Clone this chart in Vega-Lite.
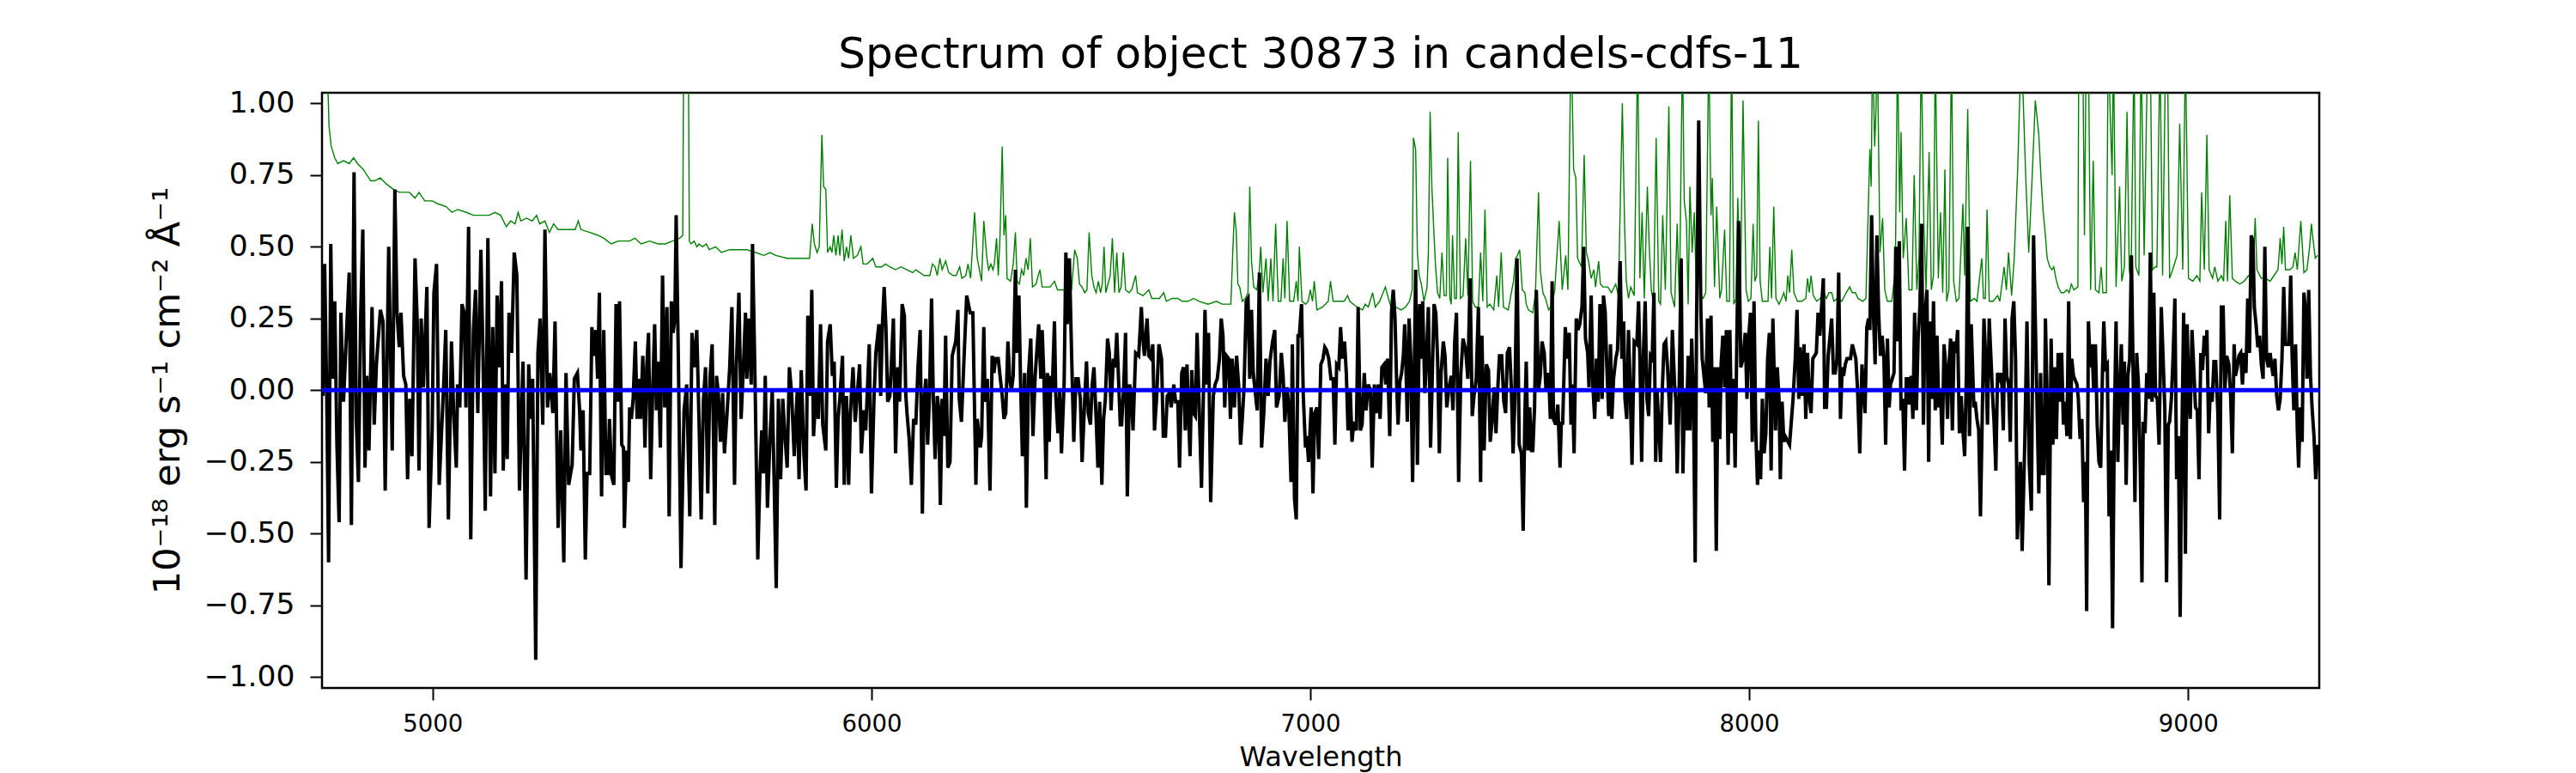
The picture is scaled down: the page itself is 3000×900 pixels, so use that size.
{
  "$schema": "https://vega.github.io/schema/vega-lite/v6.json",
  "autosize": {"type": "none"},
  "padding": {"left": 375, "top": 108, "right": 299, "bottom": 99},
  "width": 2326,
  "height": 693,
  "background": "white",
  "title": {
    "text": "Spectrum of object 30873 in candels-cdfs-11",
    "fontSize": 50,
    "fontWeight": "normal",
    "color": "black",
    "anchor": "middle",
    "offset": 13
  },
  "config": {
    "font": "DejaVu Sans",
    "view": {"stroke": "black", "strokeWidth": 2.5},
    "axis": {
      "domain": false,
      "grid": false,
      "tickColor": "black",
      "tickWidth": 2,
      "tickSize": 14,
      "labelColor": "black",
      "titleColor": "black",
      "titleFontWeight": "normal",
      "labelFont": "DejaVu Sans",
      "titleFont": "DejaVu Sans"
    }
  },
  "datasets": {
    "model": [
      {"w": 4748, "f": 0}, {"w": 5500, "f": 0}, {"w": 6000, "f": 0}, {"w": 6500, "f": 0},
      {"w": 7000, "f": 0}, {"w": 7500, "f": 0}, {"w": 8000, "f": 0}, {"w": 8500, "f": 0},
      {"w": 9000, "f": 0}, {"w": 9299, "f": 0}
    ],
    "noise": [
      {"w":4757,"f":1.30},{"w":4764,"f":0.92},{"w":4769,"f":0.85},{"w":4777,"f":0.81},{"w":4784,"f":0.79},{"w":4797,"f":0.80},{"w":4810,"f":0.79},{"w":4820,"f":0.81},{"w":4829,"f":0.79},{"w":4842,"f":0.77},{"w":4859,"f":0.73},{"w":4868,"f":0.73},{"w":4881,"f":0.74},{"w":4894,"f":0.72},{"w":4911,"f":0.70},{"w":4924,"f":0.69},{"w":4947,"f":0.69},{"w":4960,"f":0.67},{"w":4969,"f":0.69},{"w":4982,"f":0.66},{"w":4999,"f":0.66},{"w":5012,"f":0.65},{"w":5031,"f":0.64},{"w":5044,"f":0.62},{"w":5057,"f":0.63},{"w":5077,"f":0.62},{"w":5093,"f":0.61},{"w":5110,"f":0.61},{"w":5129,"f":0.61},{"w":5142,"f":0.62},{"w":5155,"f":0.61},{"w":5168,"f":0.57},{"w":5178,"f":0.59},{"w":5188,"f":0.58},{"w":5195,"f":0.62},{"w":5201,"f":0.59},{"w":5214,"f":0.60},{"w":5227,"f":0.59},{"w":5237,"f":0.61},{"w":5244,"f":0.58},{"w":5256,"f":0.59},{"w":5266,"f":0.55},{"w":5276,"f":0.58},{"w":5286,"f":0.56},{"w":5305,"f":0.56},
      {"w":5325,"f":0.56},{"w":5332,"f":0.59},{"w":5338,"f":0.56},{"w":5358,"f":0.55},{"w":5377,"f":0.54},{"w":5390,"f":0.53},{"w":5407,"f":0.51},{"w":5423,"f":0.52},{"w":5439,"f":0.52},{"w":5449,"f":0.52},{"w":5461,"f":0.53},{"w":5475,"f":0.51},{"w":5495,"f":0.52},{"w":5514,"f":0.51},{"w":5530,"f":0.51},{"w":5547,"f":0.52},{"w":5563,"f":0.53},{"w":5570,"f":0.54},{"w":5573,"f":1.45},{"w":5577,"f":1.6},{"w":5582,"f":1.45},{"w":5585,"f":0.52},{"w":5589,"f":0.51},{"w":5596,"f":0.52},{"w":5602,"f":0.50},{"w":5607,"f":0.51},{"w":5615,"f":0.50},{"w":5624,"f":0.51},{"w":5630,"f":0.49},{"w":5645,"f":0.50},{"w":5658,"f":0.48},{"w":5677,"f":0.49},{"w":5697,"f":0.49},{"w":5716,"f":0.49},{"w":5736,"f":0.48},{"w":5755,"f":0.47},{"w":5769,"f":0.48},{"w":5782,"f":0.47},{"w":5808,"f":0.46},{"w":5834,"f":0.46},{"w":5859,"f":0.46},{"w":5865,"f":0.58},{"w":5870,"f":0.51},{"w":5876,"f":0.48},{"w":5881,"f":0.50},{"w":5887,"f":0.89},{"w":5891,"f":0.71},{"w":5896,"f":0.70},{"w":5900,"f":0.48},{"w":5906,"f":0.50},{"w":5910,"f":0.48},{"w":5914,"f":0.54},{"w":5919,"f":0.47},{"w":5924,"f":0.54},{"w":5928,"f":0.47},{"w":5933,"f":0.56},{"w":5938,"f":0.45},{"w":5943,"f":0.50},{"w":5948,"f":0.46},{"w":5953,"f":0.54},{"w":5959,"f":0.46},{"w":5968,"f":0.47},{"w":5976,"f":0.50},{"w":5981,"f":0.44},
      {"w":5990,"f":0.44},{"w":5997,"f":0.45},{"w":6003,"f":0.46},{"w":6010,"f":0.43},{"w":6023,"f":0.43},{"w":6032,"f":0.44},{"w":6042,"f":0.43},{"w":6055,"f":0.42},{"w":6067,"f":0.43},{"w":6081,"f":0.42},{"w":6094,"f":0.41},{"w":6101,"f":0.42},{"w":6120,"f":0.40},{"w":6133,"f":0.40},{"w":6139,"f":0.44},{"w":6145,"f":0.43},{"w":6150,"f":0.40},{"w":6156,"f":0.46},{"w":6161,"f":0.42},{"w":6169,"f":0.45},{"w":6176,"f":0.41},{"w":6186,"f":0.40},{"w":6193,"f":0.40},{"w":6201,"f":0.43},{"w":6206,"f":0.39},{"w":6215,"f":0.40},{"w":6220,"f":0.44},{"w":6226,"f":0.39},{"w":6235,"f":0.62},{"w":6241,"f":0.46},{"w":6246,"f":0.42},{"w":6251,"f":0.38},{"w":6256,"f":0.59},{"w":6263,"f":0.46},{"w":6267,"f":0.42},{"w":6272,"f":0.44},{"w":6277,"f":0.42},{"w":6280,"f":0.44},{"w":6285,"f":0.53},{"w":6289,"f":0.40},{"w":6293,"f":0.54},{"w":6298,"f":0.85},{"w":6302,"f":0.54},{"w":6306,"f":0.61},{"w":6309,"f":0.39},{"w":6317,"f":0.38},{"w":6323,"f":0.44},{"w":6328,"f":0.55},{"w":6332,"f":0.38},{"w":6337,"f":0.37},{"w":6342,"f":0.42},{"w":6347,"f":0.40},{"w":6352,"f":0.46},{"w":6357,"f":0.42},{"w":6362,"f":0.53},{"w":6367,"f":0.36},{"w":6375,"f":0.37},{"w":6380,"f":0.40},{"w":6384,"f":0.42},{"w":6389,"f":0.36},{"w":6398,"f":0.36},{"w":6407,"f":0.36},{"w":6417,"f":0.38},{"w":6424,"f":0.35},{"w":6440,"f":0.35},{"w":6456,"f":0.35},{"w":6463,"f":0.49},{"w":6469,"f":0.46},{"w":6474,"f":0.37},{"w":6480,"f":0.36},{"w":6486,"f":0.34},{"w":6491,"f":0.35},{"w":6496,"f":0.55},{"w":6502,"f":0.40},{"w":6507,"f":0.36},{"w":6512,"f":0.34},{"w":6517,"f":0.38},{"w":6522,"f":0.34},{"w":6526,"f":0.37},{"w":6530,"f":0.50},{"w":6534,"f":0.34},{"w":6539,"f":0.37},{"w":6544,"f":0.40},{"w":6549,"f":0.53},{"w":6554,"f":0.34},{"w":6559,"f":0.48},{"w":6564,"f":0.34},{"w":6569,"f":0.36},{"w":6574,"f":0.48},{"w":6579,"f":0.35},{"w":6587,"f":0.34},{"w":6593,"f":0.35},{"w":6602,"f":0.40},{"w":6606,"f":0.34},{"w":6619,"f":0.33},{"w":6632,"f":0.35},{"w":6639,"f":0.32},
      {"w":6656,"f":0.32},{"w":6666,"f":0.34},{"w":6672,"f":0.31},{"w":6685,"f":0.32},{"w":6698,"f":0.32},{"w":6708,"f":0.31},{"w":6721,"f":0.31},{"w":6734,"f":0.32},{"w":6747,"f":0.31},{"w":6767,"f":0.30},{"w":6786,"f":0.31},{"w":6799,"f":0.30},{"w":6819,"f":0.30},{"w":6824,"f":0.51},{"w":6827,"f":0.62},{"w":6831,"f":0.56},{"w":6835,"f":0.37},{"w":6839,"f":0.36},{"w":6845,"f":0.31},{"w":6852,"f":0.32},{"w":6858,"f":0.34},{"w":6862,"f":0.71},{"w":6866,"f":0.45},{"w":6871,"f":0.36},{"w":6878,"f":0.35},{"w":6883,"f":0.40},{"w":6887,"f":0.50},{"w":6892,"f":0.34},{"w":6899,"f":0.46},{"w":6904,"f":0.31},{"w":6910,"f":0.46},{"w":6915,"f":0.31},{"w":6921,"f":0.58},{"w":6927,"f":0.31},{"w":6933,"f":0.31},{"w":6938,"f":0.46},{"w":6942,"f":0.32},{"w":6947,"f":0.59},{"w":6953,"f":0.31},{"w":6962,"f":0.31},{"w":6968,"f":0.38},{"w":6972,"f":0.31},{"w":6975,"f":0.50},{"w":6981,"f":0.31},{"w":6989,"f":0.30},{"w":6995,"f":0.31},{"w":7000,"f":0.35},{"w":7005,"f":0.31},{"w":7009,"f":0.38},{"w":7015,"f":0.28},{"w":7028,"f":0.29},{"w":7041,"f":0.31},{"w":7046,"f":0.38},{"w":7052,"f":0.31},{"w":7060,"f":0.31},{"w":7070,"f":0.31},{"w":7077,"f":0.31},{"w":7085,"f":0.33},{"w":7090,"f":0.31},{"w":7106,"f":0.29},{"w":7119,"f":0.28},{"w":7125,"f":0.30},{"w":7132,"f":0.29},{"w":7142,"f":0.34},{"w":7148,"f":0.29},{"w":7158,"f":0.31},{"w":7171,"f":0.36},{"w":7178,"f":0.32},{"w":7184,"f":0.29},{"w":7194,"f":0.29},{"w":7207,"f":0.28},{"w":7217,"f":0.29},{"w":7226,"f":0.31},{"w":7232,"f":0.35},{"w":7235,"f":0.88},{"w":7240,"f":0.84},{"w":7244,"f":0.48},{"w":7248,"f":0.40},{"w":7253,"f":0.37},{"w":7259,"f":0.31},{"w":7266,"f":0.36},{"w":7269,"f":0.48},{"w":7273,"f":0.97},{"w":7277,"f":0.71},{"w":7281,"f":0.57},{"w":7285,"f":0.44},{"w":7290,"f":0.34},{"w":7295,"f":0.32},{"w":7300,"f":0.48},{"w":7305,"f":0.33},{"w":7310,"f":0.33},{"w":7313,"f":0.81},{"w":7318,"f":0.32},
      {"w":7321,"f":0.30},{"w":7324,"f":0.54},{"w":7329,"f":0.32},{"w":7333,"f":0.32},{"w":7337,"f":0.90},{"w":7342,"f":0.32},{"w":7348,"f":0.33},{"w":7354,"f":0.53},{"w":7359,"f":0.33},{"w":7365,"f":0.80},{"w":7370,"f":0.31},{"w":7376,"f":0.29},{"w":7383,"f":0.29},{"w":7388,"f":0.48},{"w":7393,"f":0.31},{"w":7398,"f":0.63},{"w":7403,"f":0.29},{"w":7409,"f":0.30},{"w":7418,"f":0.28},{"w":7425,"f":0.40},{"w":7429,"f":0.29},{"w":7435,"f":0.48},{"w":7440,"f":0.29},{"w":7451,"f":0.28},{"w":7458,"f":0.34},{"w":7463,"f":0.38},{"w":7468,"f":0.46},{"w":7472,"f":0.47},{"w":7477,"f":0.49},{"w":7483,"f":0.35},{"w":7489,"f":0.34},{"w":7492,"f":0.30},{"w":7497,"f":0.28},{"w":7507,"f":0.27},{"w":7513,"f":0.34},{"w":7520,"f":0.69},{"w":7524,"f":0.42},{"w":7530,"f":0.34},{"w":7536,"f":0.32},{"w":7543,"f":0.28},{"w":7551,"f":0.30},{"w":7557,"f":0.35},{"w":7567,"f":0.59},{"w":7574,"f":0.35},{"w":7582,"f":0.47},{"w":7587,"f":0.35},{"w":7594,"f":1.25},{"w":7600,"f":0.77},{"w":7605,"f":0.74},{"w":7609,"f":0.46},{"w":7618,"f":0.43},{"w":7624,"f":0.82},{"w":7629,"f":0.48},{"w":7634,"f":0.45},{"w":7640,"f":0.39},{"w":7646,"f":0.42},{"w":7650,"f":0.36},{"w":7657,"f":0.45},{"w":7661,"f":0.37},{"w":7667,"f":0.36},{"w":7678,"f":0.36},{"w":7686,"f":0.34},{"w":7696,"f":0.37},{"w":7702,"f":0.33},{"w":7711,"f":1.00},{"w":7716,"f":0.58},{"w":7720,"f":0.38},{"w":7725,"f":0.32},{"w":7730,"f":0.36},{"w":7738,"f":0.33},{"w":7746,"f":1.2},{"w":7751,"f":0.39},{"w":7756,"f":0.62},{"w":7761,"f":0.32},{"w":7768,"f":0.71},{"w":7772,"f":0.51},{"w":7777,"f":0.35},{"w":7782,"f":0.30},{"w":7788,"f":0.88},{"w":7794,"f":0.31},{"w":7798,"f":0.30},{"w":7803,"f":0.61},{"w":7809,"f":0.35},{"w":7817,"f":0.99},{"w":7822,"f":0.34},{"w":7830,"f":0.29},{"w":7836,"f":0.58},{"w":7841,"f":0.30},{"w":7848,"f":1.2},{"w":7852,"f":0.66},{"w":7857,"f":0.59},{"w":7861,"f":0.30},{"w":7865,"f":0.71},{"w":7870,"f":0.48},{"w":7875,"f":0.62},{"w":7880,"f":0.32},{"w":7885,"f":0.90},{"w":7890,"f":0.33},{"w":7895,"f":0.32},{"w":7901,"f":0.34},{"w":7908,"f":1.2},{"w":7913,"f":0.61},{"w":7916,"f":0.74},{"w":7921,"f":0.36},{"w":7926,"f":0.64},{"w":7933,"f":0.32},{"w":7937,"f":0.35},{"w":7944,"f":0.56},{"w":7949,"f":0.31},{"w":7955,"f":0.31},{"w":7960,"f":1.2},{"w":7965,"f":0.30},{"w":7970,"f":0.32},{"w":7974,"f":0.67},{"w":7980,"f":0.32},
      {"w":7986,"f":1.01},{"w":7993,"f":0.35},{"w":7998,"f":0.31},{"w":8004,"f":0.32},{"w":8009,"f":0.58},{"w":8013,"f":0.38},{"w":8017,"f":0.40},{"w":8021,"f":0.94},{"w":8025,"f":0.38},{"w":8030,"f":0.31},{"w":8038,"f":0.31},{"w":8043,"f":0.31},{"w":8047,"f":0.50},{"w":8051,"f":0.32},{"w":8056,"f":0.64},{"w":8061,"f":0.32},{"w":8068,"f":0.30},{"w":8074,"f":0.32},{"w":8079,"f":0.34},{"w":8084,"f":0.31},{"w":8088,"f":0.40},{"w":8092,"f":0.34},{"w":8097,"f":0.49},{"w":8102,"f":0.34},{"w":8110,"f":0.31},{"w":8120,"f":0.31},{"w":8129,"f":0.32},{"w":8133,"f":0.39},{"w":8137,"f":0.34},{"w":8141,"f":0.40},{"w":8146,"f":0.33},{"w":8154,"f":0.31},{"w":8162,"f":0.32},{"w":8170,"f":0.34},{"w":8176,"f":0.32},{"w":8182,"f":0.34},{"w":8188,"f":0.34},{"w":8193,"f":0.31},{"w":8201,"f":0.32},{"w":8211,"f":0.31},{"w":8221,"f":0.34},{"w":8229,"f":0.36},{"w":8235,"f":0.34},{"w":8242,"f":0.34},{"w":8248,"f":0.32},{"w":8259,"f":0.31},{"w":8266,"f":0.32},{"w":8271,"f":0.61},{"w":8275,"f":0.84},{"w":8278,"f":0.71},{"w":8281,"f":1.2},{"w":8286,"f":0.85},{"w":8289,"f":0.98},{"w":8292,"f":1.2},{"w":8298,"f":0.48},{"w":8304,"f":0.60},{"w":8309,"f":0.35},{"w":8315,"f":0.31},{"w":8325,"f":0.31},{"w":8333,"f":0.42},{"w":8338,"f":1.2},{"w":8343,"f":0.62},{"w":8346,"f":0.90},{"w":8351,"f":0.46},{"w":8358,"f":0.60},{"w":8364,"f":0.35},{"w":8371,"f":0.35},{"w":8376,"f":0.75},{"w":8382,"f":0.35},{"w":8387,"f":0.47},{"w":8392,"f":1.2},{"w":8398,"f":0.58},{"w":8403,"f":0.35},{"w":8410,"f":0.83},{"w":8415,"f":0.35},{"w":8420,"f":0.40},{"w":8424,"f":1.2},{"w":8431,"f":0.39},{"w":8436,"f":0.62},{"w":8441,"f":0.34},{"w":8446,"f":0.77},{"w":8450,"f":0.31},{"w":8455,"f":0.35},{"w":8461,"f":1.2},{"w":8466,"f":0.38},{"w":8472,"f":0.31},{"w":8478,"f":0.32},{"w":8487,"f":0.65},{"w":8491,"f":0.40},{"w":8498,"f":0.98},{"w":8504,"f":0.31},{"w":8513,"f":0.32},{"w":8519,"f":0.31},{"w":8530,"f":0.46},{"w":8534,"f":0.32},{"w":8538,"f":0.32},{"w":8542,"f":0.63},{"w":8547,"f":0.31},{"w":8556,"f":0.31},{"w":8566,"f":0.33},{"w":8571,"f":0.31},{"w":8581,"f":0.43},{"w":8586,"f":0.35},{"w":8591,"f":0.48},{"w":8598,"f":0.33},{"w":8604,"f":0.46},{"w":8612,"f":0.78},{"w":8618,"f":1.1},{"w":8623,"f":1.08},{"w":8630,"f":0.75},{"w":8637,"f":0.48},{"w":8645,"f":0.75},
      {"w":8652,"f":1.01},{"w":8660,"f":0.89},{"w":8665,"f":0.74},{"w":8670,"f":0.62},{"w":8675,"f":0.54},{"w":8679,"f":0.46},{"w":8685,"f":0.43},{"w":8690,"f":0.42},{"w":8694,"f":0.43},{"w":8699,"f":0.39},{"w":8704,"f":0.36},{"w":8711,"f":0.34},{"w":8717,"f":0.34},{"w":8724,"f":0.35},{"w":8729,"f":0.34},{"w":8734,"f":0.37},{"w":8740,"f":0.35},{"w":8749,"f":0.36},{"w":8751,"f":1.2},{"w":8760,"f":1.2},{"w":8764,"f":0.54},{"w":8768,"f":1.2},{"w":8773,"f":1.2},{"w":8778,"f":0.35},{"w":8784,"f":0.80},{"w":8789,"f":0.35},{"w":8797,"f":0.34},{"w":8802,"f":0.43},{"w":8806,"f":0.34},{"w":8814,"f":0.34},{"w":8818,"f":1.2},{"w":8827,"f":0.75},{"w":8830,"f":1.2},{"w":8836,"f":0.36},{"w":8844,"f":0.71},{"w":8849,"f":0.38},{"w":8855,"f":0.43},{"w":8861,"f":0.97},{"w":8866,"f":0.42},{"w":8870,"f":0.38},{"w":8877,"f":1.2},{"w":8881,"f":0.43},{"w":8888,"f":0.40},{"w":8893,"f":1.2},{"w":8900,"f":0.47},{"w":8908,"f":1.2},{"w":8914,"f":1.2},{"w":8919,"f":0.42},{"w":8925,"f":0.43},{"w":8929,"f":0.43},{"w":8936,"f":1.2},{"w":8942,"f":0.40},{"w":8949,"f":1.2},{"w":8953,"f":1.2},{"w":8958,"f":0.39},{"w":8965,"f":0.42},{"w":8971,"f":0.45},{"w":8975,"f":0.47},{"w":8981,"f":0.93},{"w":8988,"f":0.42},{"w":8994,"f":1.2},{"w":9001,"f":0.39},{"w":9011,"f":0.38},{"w":9020,"f":0.40},{"w":9027,"f":0.38},{"w":9031,"f":0.69},{"w":9037,"f":0.42},{"w":9043,"f":0.89},{"w":9048,"f":0.42},{"w":9056,"f":0.39},{"w":9061,"f":0.43},{"w":9068,"f":0.38},{"w":9076,"f":0.40},{"w":9081,"f":0.38},{"w":9086,"f":0.59},{"w":9090,"f":0.38},{"w":9095,"f":0.68},{"w":9101,"f":0.39},{"w":9108,"f":0.38},{"w":9118,"f":0.37},{"w":9128,"f":0.38},{"w":9138,"f":0.40},{"w":9148,"f":0.40},{"w":9153,"f":0.60},{"w":9157,"f":0.42},{"w":9167,"f":0.39},{"w":9177,"f":0.39},{"w":9187,"f":0.38},{"w":9196,"f":0.40},{"w":9205,"f":0.42},{"w":9210,"f":0.53},{"w":9214,"f":0.44},{"w":9218,"f":0.57},{"w":9222,"f":0.42},{"w":9232,"f":0.42},{"w":9239,"f":0.43},{"w":9244,"f":0.48},{"w":9249,"f":0.42},{"w":9257,"f":0.59},{"w":9264,"f":0.41},{"w":9271,"f":0.42},{"w":9277,"f":0.50},{"w":9281,"f":0.58},{"w":9286,"f":0.51},{"w":9290,"f":0.46},{"w":9295,"f":0.47}
    ],
    "spec": [
      {"w":4750,"f":-0.02},{"w":4754,"f":0.44},{"w":4759,"f":-0.04},{"w":4763,"f":-0.60},{"w":4768,"f":0.51},{"w":4772,"f":0.04},{"w":4777,"f":0.31},{"w":4782,"f":-0.19},{"w":4787,"f":-0.46},{"w":4791,"f":0.27},{"w":4797,"f":-0.04},{"w":4803,"f":0.17},{"w":4810,"f":0.41},{"w":4815,"f":-0.47},{"w":4821,"f":0.76},{"w":4826,"f":-0.10},{"w":4831,"f":-0.32},{"w":4836,"f":0.25},{"w":4841,"f":0.56},{"w":4846,"f":-0.27},{"w":4850,"f":0.05},{"w":4855,"f":-0.21},{"w":4862,"f":0.29},{"w":4867,"f":-0.12},{"w":4872,"f":0.09},{"w":4881,"f":0.28},{"w":4887,"f":0.24},{"w":4892,"f":-0.35},{"w":4900,"f":0.50},{"w":4908,"f":-0.21},{"w":4914,"f":0.70},{"w":4919,"f":0.27},{"w":4924,"f":0.15},{"w":4928,"f":0.27},{"w":4934,"f":0.05},{"w":4939,"f":0.02},{"w":4943,"f":-0.31},{"w":4948,"f":-0.03},{"w":4953,"f":-0.23},{"w":4960,"f":0.46},{"w":4965,"f":0.24},{"w":4969,"f":-0.28},{"w":4974,"f":0.25},{"w":4979,"f":0.01},{"w":4987,"f":0.36},{"w":4992,"f":-0.48},{"w":4999,"f":-0.14},{"w":5003,"f":0.34},{"w":5009,"f":0.44},{"w":5015,"f":-0.33},{"w":5025,"f":0.01},{"w":5030,"f":0.21},{"w":5036,"f":-0.45},{"w":5043,"f":0.17},{"w":5048,"f":-0.08},{"w":5054,"f":-0.27},{"w":5057,"f":0.02},{"w":5062,"f":-0.06},{"w":5067,"f":0.30},{"w":5072,"f":0.27},{"w":5076,"f":-0.06},{"w":5082,"f":0.57},{"w":5087,"f":-0.52},{"w":5093,"f":0.21},{"w":5098,"f":0.35},{"w":5103,"f":-0.08},{"w":5110,"f":0.49},{"w":5115,"f":0.11},{"w":5120,"f":-0.42},{"w":5126,"f":0.53},{"w":5132,"f":-0.37},{"w":5137,"f":0.22},{"w":5142,"f":-0.29},{"w":5147,"f":0.33},{"w":5152,"f":0.08},{"w":5157,"f":0.38},{"w":5161,"f":-0.28},{"w":5165,"f":0.02},{"w":5170,"f":-0.24},{"w":5174,"f":0.27},{"w":5180,"f":0.13},{"w":5186,"f":0.48},{"w":5192,"f":0.40},{"w":5198,"f":-0.35},{"w":5206,"f":0.10},{"w":5213,"f":-0.66},{"w":5219,"f":0.09},{"w":5224,"f":-0.10},{"w":5228,"f":0.04},{"w":5235,"f":-0.94},{"w":5240,"f":0.13},{"w":5245,"f":0.25},{"w":5251,"f":-0.12},{"w":5256,"f":0.56},{"w":5262,"f":-0.06},{"w":5267,"f":0.06},{"w":5274,"f":-0.08},{"w":5279,"f":0.24},{"w":5286,"f":-0.48},{"w":5292,"f":-0.14},{"w":5299,"f":-0.60},{"w":5304,"f":0.06},{"w":5310,"f":-0.33},{"w":5318,"f":-0.26},{"w":5323,"f":0.04},
      {"w":5330,"f":0.06},{"w":5335,"f":-0.07},{"w":5338,"f":-0.21},{"w":5343,"f":-0.07},{"w":5348,"f":-0.59},{"w":5352,"f":-0.29},{"w":5358,"f":-0.29},{"w":5363,"f":0.22},{"w":5367,"f":0.12},{"w":5372,"f":0.21},{"w":5376,"f":0.04},{"w":5380,"f":0.34},{"w":5385,"f":-0.37},{"w":5390,"f":0.21},{"w":5395,"f":-0.29},{"w":5400,"f":-0.29},{"w":5403,"f":-0.10},{"w":5408,"f":-0.30},{"w":5413,"f":-0.33},{"w":5418,"f":0.30},{"w":5423,"f":-0.04},{"w":5426,"f":0.31},{"w":5431,"f":-0.19},{"w":5435,"f":-0.20},{"w":5437,"f":-0.48},{"w":5442,"f":-0.21},{"w":5446,"f":-0.32},{"w":5449,"f":-0.06},{"w":5453,"f":-0.10},{"w":5457,"f":-0.03},{"w":5462,"f":0.17},{"w":5466,"f":-0.10},{"w":5470,"f":0.04},{"w":5474,"f":-0.10},{"w":5479,"f":0.12},{"w":5484,"f":-0.20},{"w":5488,"f":0.08},{"w":5492,"f":0.20},{"w":5497,"f":-0.31},{"w":5501,"f":-0.03},{"w":5506,"f":0.23},{"w":5510,"f":-0.07},{"w":5514,"f":0.10},{"w":5519,"f":-0.20},{"w":5524,"f":0.40},{"w":5529,"f":-0.06},{"w":5534,"f":0.29},{"w":5539,"f":-0.44},{"w":5544,"f":0.31},{"w":5548,"f":0.20},{"w":5552,"f":0.25},{"w":5555,"f":0.61},{"w":5560,"f":0.11},{"w":5566,"f":-0.62},{"w":5573,"f":-0.07},{"w":5579,"f":0.02},{"w":5586,"f":-0.44},{"w":5591,"f":0.20},{"w":5596,"f":0.08},{"w":5602,"f":0.21},{"w":5607,"f":-0.10},{"w":5612,"f":-0.45},{"w":5617,"f":-0.04},{"w":5622,"f":0.08},{"w":5627,"f":-0.36},{"w":5632,"f":0.04},{"w":5637,"f":0.16},{"w":5643,"f":-0.47},{"w":5647,"f":0.05},{"w":5651,"f":-0.01},{"w":5656,"f":-0.18},{"w":5661,"f":-0.01},{"w":5665,"f":-0.22},{"w":5671,"f":-0.08},{"w":5677,"f":0.08},{"w":5682,"f":0.29},{"w":5688,"f":-0.33},{"w":5692,"f":0.08},{"w":5698,"f":0.34},{"w":5703,"f":-0.10},{"w":5709,"f":0.11},{"w":5713,"f":0.27},{"w":5716,"f":0.04},{"w":5721,"f":0.25},{"w":5726,"f":0.02},{"w":5729,"f":0.51},{"w":5735,"f":0.01},{"w":5741,"f":-0.59},{"w":5746,"f":-0.29},{"w":5750,"f":-0.14},{"w":5754,"f":-0.29},{"w":5758,"f":0.05},{"w":5763,"f":-0.41},{"w":5769,"f":-0.16},{"w":5774,"f":0.00},{"w":5778,"f":-0.30},{"w":5783,"f":-0.69},{"w":5788,"f":-0.03},{"w":5793,"f":-0.31},{"w":5798,"f":-0.03},{"w":5802,"f":-0.14},{"w":5808,"f":-0.27},{"w":5813,"f":0.08},{"w":5818,"f":-0.01},{"w":5824,"f":-0.23},{"w":5831,"f":0.00},{"w":5835,"f":-0.31},{"w":5840,"f":0.07},{"w":5846,"f":-0.22},{"w":5851,"f":-0.35},{"w":5855,"f":0.26},{"w":5860,"f":-0.02},{"w":5864,"f":0.35},{"w":5868,"f":-0.16},{"w":5874,"f":0.00},{"w":5879,"f":-0.10},{"w":5884,"f":0.23},{"w":5889,"f":-0.12},{"w":5896,"f":-0.21},{"w":5900,"f":0.17},{"w":5906,"f":0.23},{"w":5911,"f":0.05},{"w":5915,"f":0.10},{"w":5920,"f":-0.34},{"w":5924,"f":-0.10},{"w":5928,"f":-0.03},{"w":5934,"f":0.12},{"w":5938,"f":-0.33},{"w":5943,"f":-0.02},{"w":5948,"f":-0.33},{"w":5952,"f":-0.08},{"w":5958,"f":0.08},{"w":5963,"f":-0.11},{"w":5967,"f":-0.03},{"w":5973,"f":0.09},{"w":5977,"f":-0.22},{"w":5983,"f":-0.07},{"w":5987,"f":-0.14},
      {"w":5995,"f":0.16},{"w":6000,"f":-0.36},{"w":6006,"f":-0.02},{"w":6010,"f":0.13},{"w":6017,"f":0.23},{"w":6021,"f":-0.02},{"w":6025,"f":0.23},{"w":6029,"f":0.36},{"w":6033,"f":0.22},{"w":6037,"f":-0.04},{"w":6042,"f":-0.02},{"w":6050,"f":0.25},{"w":6055,"f":-0.22},{"w":6060,"f":0.08},{"w":6064,"f":-0.04},{"w":6070,"f":0.30},{"w":6075,"f":0.26},{"w":6078,"f":-0.01},{"w":6081,"f":-0.08},{"w":6086,"f":-0.17},{"w":6091,"f":-0.33},{"w":6096,"f":-0.10},{"w":6101,"f":-0.12},{"w":6106,"f":0.08},{"w":6111,"f":0.21},{"w":6116,"f":-0.43},{"w":6120,"f":-0.03},{"w":6124,"f":0.04},{"w":6128,"f":-0.19},{"w":6132,"f":-0.03},{"w":6137,"f":0.32},{"w":6141,"f":-0.03},{"w":6145,"f":-0.24},{"w":6150,"f":-0.02},{"w":6153,"f":-0.06},{"w":6157,"f":-0.40},{"w":6161,"f":-0.03},{"w":6165,"f":-0.16},{"w":6169,"f":0.19},{"w":6174,"f":-0.27},{"w":6179,"f":-0.25},{"w":6184,"f":0.12},{"w":6192,"f":0.17},{"w":6197,"f":0.28},{"w":6200,"f":-0.03},{"w":6205,"f":-0.11},{"w":6212,"f":0.15},{"w":6217,"f":0.33},{"w":6225,"f":0.27},{"w":6231,"f":0.27},{"w":6238,"f":-0.33},{"w":6241,"f":-0.10},{"w":6248,"f":-0.20},{"w":6251,"f":-0.16},{"w":6256,"f":0.22},{"w":6259,"f":-0.04},{"w":6264,"f":0.04},{"w":6270,"f":-0.35},{"w":6275,"f":0.12},{"w":6279,"f":0.06},{"w":6283,"f":0.11},{"w":6289,"f":0.11},{"w":6293,"f":0.05},{"w":6298,"f":-0.02},{"w":6302,"f":-0.10},{"w":6306,"f":-0.08},{"w":6311,"f":0.17},{"w":6315,"f":0.04},{"w":6319,"f":0.00},{"w":6323,"f":0.05},{"w":6328,"f":0.42},{"w":6332,"f":0.13},{"w":6336,"f":0.33},{"w":6340,"f":0.01},{"w":6344,"f":-0.23},{"w":6349,"f":0.06},{"w":6353,"f":-0.41},{"w":6358,"f":0.06},{"w":6363,"f":0.18},{"w":6368,"f":-0.16},{"w":6373,"f":0.05},{"w":6381,"f":0.23},{"w":6386,"f":0.04},{"w":6389,"f":0.21},{"w":6393,"f":0.04},{"w":6398,"f":-0.31},{"w":6401,"f":0.06},{"w":6405,"f":-0.18},{"w":6409,"f":0.05},{"w":6412,"f":0.00},{"w":6417,"f":0.24},{"w":6420,"f":-0.02},{"w":6425,"f":-0.15},{"w":6429,"f":0.00},{"w":6433,"f":-0.22},{"w":6439,"f":0.02},{"w":6443,"f":0.48},{"w":6446,"f":0.23},{"w":6451,"f":0.46},{"w":6456,"f":0.13},{"w":6461,"f":-0.18},{"w":6466,"f":0.04},{"w":6471,"f":0.04},{"w":6476,"f":-0.03},{"w":6480,"f":-0.25},{"w":6486,"f":-0.03},{"w":6490,"f":0.10},{"w":6494,"f":-0.08},{"w":6499,"f":-0.12},{"w":6503,"f":0.02},{"w":6507,"f":0.08},{"w":6512,"f":-0.10},{"w":6516,"f":-0.27},{"w":6520,"f":-0.04},{"w":6525,"f":-0.33},{"w":6529,"f":-0.10},{"w":6533,"f":-0.03},{"w":6538,"f":0.18},{"w":6542,"f":0.13},{"w":6546,"f":-0.07},{"w":6551,"f":0.11},{"w":6555,"f":0.08},{"w":6559,"f":0.20},{"w":6567,"f":-0.12},{"w":6570,"f":-0.12},{"w":6575,"f":0.02},{"w":6579,"f":0.20},{"w":6583,"f":-0.37},{"w":6588,"f":0.02},{"w":6592,"f":-0.01},{"w":6596,"f":-0.14},{"w":6602,"f":0.13},{"w":6609,"f":0.12},{"w":6615,"f":0.29},{"w":6618,"f":0.19},{"w":6622,"f":0.12},{"w":6628,"f":0.25},{"w":6632,"f":0.12},{"w":6637,"f":0.11},{"w":6641,"f":0.16},{"w":6645,"f":-0.14},{"w":6650,"f":-0.02},{"w":6655,"f":0.16},
      {"w":6661,"f":0.11},{"w":6665,"f":-0.16},{"w":6670,"f":-0.16},{"w":6674,"f":-0.02},{"w":6679,"f":-0.01},{"w":6683,"f":-0.06},{"w":6689,"f":0.02},{"w":6693,"f":-0.04},{"w":6698,"f":-0.04},{"w":6702,"f":-0.27},{"w":6707,"f":0.06},{"w":6711,"f":0.08},{"w":6715,"f":-0.14},{"w":6719,"f":0.09},{"w":6723,"f":-0.11},{"w":6726,"f":-0.23},{"w":6730,"f":0.07},{"w":6734,"f":-0.08},{"w":6738,"f":-0.09},{"w":6742,"f":0.20},{"w":6747,"f":-0.07},{"w":6752,"f":-0.34},{"w":6757,"f":0.03},{"w":6760,"f":0.28},{"w":6764,"f":0.02},{"w":6768,"f":0.20},{"w":6773,"f":-0.39},{"w":6779,"f":-0.02},{"w":6783,"f":0.02},{"w":6788,"f":0.04},{"w":6793,"f":0.11},{"w":6797,"f":0.25},{"w":6801,"f":0.19},{"w":6805,"f":-0.06},{"w":6809,"f":0.12},{"w":6814,"f":0.11},{"w":6818,"f":-0.10},{"w":6822,"f":0.11},{"w":6827,"f":-0.06},{"w":6832,"f":0.12},{"w":6837,"f":0.01},{"w":6841,"f":-0.19},{"w":6845,"f":-0.10},{"w":6849,"f":0.01},{"w":6854,"f":0.31},{"w":6858,"f":0.32},{"w":6862,"f":0.04},{"w":6866,"f":0.28},{"w":6870,"f":0.06},{"w":6874,"f":0.00},{"w":6879,"f":-0.07},{"w":6884,"f":0.41},{"w":6889,"f":-0.20},{"w":6894,"f":-0.08},{"w":6899,"f":0.11},{"w":6904,"f":-0.02},{"w":6908,"f":0.10},{"w":6914,"f":0.17},{"w":6919,"f":0.21},{"w":6923,"f":-0.06},{"w":6929,"f":-0.02},{"w":6934,"f":0.13},{"w":6938,"f":0.05},{"w":6942,"f":-0.11},{"w":6947,"f":0.01},{"w":6951,"f":-0.06},{"w":6956,"f":-0.32},{"w":6959,"f":0.16},{"w":6964,"f":-0.38},{"w":6968,"f":-0.45},{"w":6972,"f":0.19},{"w":6975,"f":0.19},{"w":6980,"f":0.30},{"w":6984,"f":-0.02},{"w":6989,"f":-0.20},{"w":6992,"f":-0.16},{"w":6996,"f":-0.25},{"w":7002,"f":-0.06},{"w":7006,"f":-0.36},{"w":7010,"f":-0.08},{"w":7015,"f":-0.06},{"w":7019,"f":-0.24},{"w":7024,"f":0.09},{"w":7029,"f":0.11},{"w":7033,"f":0.15},{"w":7037,"f":0.14},{"w":7042,"f":0.11},{"w":7047,"f":0.04},{"w":7052,"f":0.04},{"w":7056,"f":-0.19},{"w":7060,"f":0.09},{"w":7065,"f":0.08},{"w":7069,"f":0.22},{"w":7073,"f":0.11},{"w":7078,"f":0.17},{"w":7082,"f":0.06},{"w":7086,"f":-0.14},{"w":7091,"f":0.00},{"w":7095,"f":-0.18},{"w":7099,"f":-0.11},{"w":7105,"f":-0.14},{"w":7109,"f":0.29},{"w":7114,"f":-0.14},{"w":7118,"f":-0.12},{"w":7123,"f":0.06},{"w":7127,"f":-0.07},{"w":7132,"f":0.02},{"w":7137,"f":0.00},{"w":7141,"f":-0.27},{"w":7146,"f":0.02},{"w":7150,"f":-0.08},{"w":7155,"f":0.02},{"w":7159,"f":-0.10},{"w":7163,"f":0.08},{"w":7168,"f":0.09},{"w":7172,"f":0.02},{"w":7176,"f":0.11},{"w":7181,"f":-0.16},{"w":7185,"f":0.27},{"w":7189,"f":0.35},{"w":7193,"f":0.25},{"w":7197,"f":0.01},{"w":7200,"f":-0.12},{"w":7204,"f":0.03},{"w":7208,"f":0.06},{"w":7212,"f":0.12},{"w":7215,"f":0.23},{"w":7218,"f":0.08},{"w":7221,"f":-0.11},{"w":7225,"f":0.25},{"w":7229,"f":0.11},{"w":7233,"f":-0.32},{"w":7237,"f":0.08},{"w":7240,"f":0.42},{"w":7244,"f":-0.26},{"w":7249,"f":0.30},{"w":7252,"f":0.11},{"w":7256,"f":0.31},{"w":7261,"f":-0.01},{"w":7265,"f":0.12},{"w":7269,"f":0.29},{"w":7274,"f":-0.20},{"w":7279,"f":0.12},{"w":7282,"f":0.30},{"w":7286,"f":0.27},{"w":7290,"f":0.11},{"w":7294,"f":-0.22},{"w":7298,"f":0.06},{"w":7303,"f":0.17},{"w":7307,"f":0.12},{"w":7311,"f":-0.06},{"w":7316,"f":0.01},{"w":7321,"f":0.05},
      {"w":7325,"f":-0.07},{"w":7329,"f":0.17},{"w":7333,"f":0.27},{"w":7338,"f":-0.32},{"w":7343,"f":0.06},{"w":7348,"f":0.18},{"w":7354,"f":0.14},{"w":7359,"f":0.04},{"w":7364,"f":0.39},{"w":7369,"f":-0.09},{"w":7373,"f":-0.02},{"w":7378,"f":0.04},{"w":7383,"f":0.29},{"w":7388,"f":-0.32},{"w":7391,"f":0.19},{"w":7396,"f":-0.21},{"w":7401,"f":0.09},{"w":7406,"f":0.07},{"w":7410,"f":-0.18},{"w":7414,"f":-0.11},{"w":7419,"f":0.01},{"w":7423,"f":-0.15},{"w":7427,"f":0.00},{"w":7431,"f":0.12},{"w":7436,"f":0.12},{"w":7441,"f":-0.04},{"w":7445,"f":-0.08},{"w":7449,"f":0.13},{"w":7454,"f":0.15},{"w":7458,"f":0.01},{"w":7462,"f":-0.22},{"w":7466,"f":-0.04},{"w":7471,"f":0.46},{"w":7476,"f":-0.19},{"w":7481,"f":-0.22},{"w":7485,"f":-0.49},{"w":7489,"f":-0.08},{"w":7492,"f":0.10},{"w":7496,"f":-0.21},{"w":7500,"f":-0.06},{"w":7504,"f":-0.21},{"w":7507,"f":-0.21},{"w":7511,"f":-0.06},{"w":7515,"f":0.35},{"w":7520,"f":0.00},{"w":7524,"f":0.05},{"w":7528,"f":0.17},{"w":7533,"f":0.13},{"w":7537,"f":0.00},{"w":7543,"f":0.06},{"w":7547,"f":-0.10},{"w":7551,"f":0.38},{"w":7554,"f":-0.10},{"w":7559,"f":-0.12},{"w":7564,"f":-0.05},{"w":7569,"f":-0.27},{"w":7572,"f":-0.11},{"w":7575,"f":-0.12},{"w":7581,"f":0.22},{"w":7585,"f":0.11},{"w":7590,"f":0.20},{"w":7594,"f":-0.12},{"w":7597,"f":0.02},{"w":7601,"f":-0.22},{"w":7606,"f":0.25},{"w":7610,"f":0.21},{"w":7614,"f":0.23},{"w":7619,"f":0.29},{"w":7623,"f":0.50},{"w":7627,"f":0.18},{"w":7632,"f":0.13},{"w":7635,"f":0.01},{"w":7640,"f":0.33},{"w":7644,"f":0.01},{"w":7648,"f":-0.10},{"w":7652,"f":0.11},{"w":7656,"f":-0.04},{"w":7660,"f":0.30},{"w":7665,"f":-0.03},{"w":7668,"f":0.33},{"w":7672,"f":0.27},{"w":7675,"f":0.11},{"w":7680,"f":-0.09},{"w":7684,"f":0.16},{"w":7687,"f":-0.10},{"w":7691,"f":0.04},{"w":7696,"f":0.11},{"w":7700,"f":0.14},{"w":7706,"f":0.45},{"w":7710,"f":0.11},{"w":7714,"f":0.24},{"w":7717,"f":-0.03},{"w":7721,"f":-0.10},{"w":7725,"f":0.21},{"w":7729,"f":0.00},{"w":7733,"f":-0.26},{"w":7738,"f":0.17},{"w":7744,"f":0.16},{"w":7748,"f":0.31},{"w":7751,"f":0.11},{"w":7755,"f":-0.25},{"w":7759,"f":0.13},{"w":7763,"f":0.31},{"w":7767,"f":-0.03},{"w":7771,"f":-0.09},{"w":7775,"f":0.12},{"w":7779,"f":0.11},{"w":7783,"f":0.34},{"w":7787,"f":-0.25},{"w":7790,"f":0.00},{"w":7794,"f":-0.12},{"w":7798,"f":-0.25},{"w":7802,"f":0.00},{"w":7806,"f":0.16},{"w":7810,"f":0.17},{"w":7814,"f":0.08},{"w":7820,"f":-0.12},{"w":7825,"f":0.21},{"w":7830,"f":0.02},{"w":7833,"f":-0.04},{"w":7836,"f":-0.29},{"w":7840,"f":-0.04},{"w":7845,"f":0.46},{"w":7849,"f":-0.29},{"w":7853,"f":0.00},{"w":7857,"f":-0.14},{"w":7861,"f":0.12},{"w":7865,"f":-0.14},{"w":7869,"f":0.18},{"w":7873,"f":-0.03},{"w":7877,"f":-0.60},{"w":7880,"f":0.22},{"w":7885,"f":0.94},{"w":7890,"f":0.27},{"w":7893,"f":0.11},{"w":7901,"f":-0.01},{"w":7905,"f":0.25},{"w":7909,"f":-0.06},{"w":7913,"f":0.26},{"w":7917,"f":-0.18},{"w":7921,"f":0.08},{"w":7925,"f":-0.56},{"w":7929,"f":0.08},{"w":7933,"f":-0.17},{"w":7936,"f":0.09},{"w":7940,"f":0.19},{"w":7944,"f":0.01},{"w":7948,"f":0.21},{"w":7952,"f":-0.26},{"w":7956,"f":0.21},{"w":7960,"f":-0.15},{"w":7964,"f":0.04},{"w":7968,"f":-0.27},{"w":7972,"f":0.19},{"w":7976,"f":0.59},{"w":7981,"f":0.08},{"w":7986,"f":0.11},
      {"w":7991,"f":0.20},{"w":7995,"f":-0.03},{"w":7999,"f":0.19},{"w":8003,"f":0.27},{"w":8007,"f":-0.18},{"w":8011,"f":0.31},{"w":8015,"f":-0.14},{"w":8019,"f":-0.33},{"w":8023,"f":-0.21},{"w":8026,"f":-0.31},{"w":8030,"f":-0.03},{"w":8034,"f":-0.22},{"w":8038,"f":-0.15},{"w":8042,"f":0.11},{"w":8046,"f":0.20},{"w":8050,"f":-0.28},{"w":8054,"f":0.25},{"w":8060,"f":-0.14},{"w":8064,"f":0.08},{"w":8068,"f":-0.03},{"w":8071,"f":-0.31},{"w":8075,"f":-0.04},{"w":8079,"f":-0.18},{"w":8082,"f":-0.16},{"w":8092,"f":-0.19},{"w":8100,"f":-0.03},{"w":8105,"f":0.11},{"w":8109,"f":0.28},{"w":8113,"f":-0.03},{"w":8116,"f":0.15},{"w":8121,"f":-0.02},{"w":8125,"f":0.16},{"w":8129,"f":-0.10},{"w":8133,"f":0.13},{"w":8137,"f":-0.03},{"w":8141,"f":-0.08},{"w":8145,"f":0.11},{"w":8153,"f":0.13},{"w":8157,"f":0.27},{"w":8161,"f":0.19},{"w":8165,"f":0.29},{"w":8169,"f":0.39},{"w":8172,"f":-0.06},{"w":8176,"f":-0.06},{"w":8180,"f":0.12},{"w":8188,"f":0.25},{"w":8192,"f":0.06},{"w":8196,"f":0.06},{"w":8200,"f":0.11},{"w":8204,"f":0.41},{"w":8208,"f":-0.10},{"w":8212,"f":0.08},{"w":8215,"f":0.05},{"w":8219,"f":0.09},{"w":8223,"f":0.11},{"w":8231,"f":0.11},{"w":8235,"f":0.16},{"w":8243,"f":0.11},{"w":8247,"f":0.00},{"w":8252,"f":-0.22},{"w":8257,"f":0.09},{"w":8264,"f":-0.08},{"w":8268,"f":0.22},{"w":8272,"f":0.25},{"w":8275,"f":0.21},{"w":8279,"f":0.61},{"w":8283,"f":0.27},{"w":8287,"f":0.09},{"w":8291,"f":0.54},{"w":8295,"f":0.27},{"w":8299,"f":0.12},{"w":8303,"f":0.19},{"w":8307,"f":0.11},{"w":8311,"f":-0.19},{"w":8315,"f":0.18},{"w":8319,"f":-0.06},{"w":8322,"f":0.02},{"w":8330,"f":0.06},{"w":8334,"f":0.50},{"w":8338,"f":0.17},{"w":8342,"f":0.52},{"w":8346,"f":-0.07},{"w":8350,"f":-0.03},{"w":8354,"f":-0.28},{"w":8358,"f":0.04},{"w":8362,"f":0.04},{"w":8365,"f":-0.05},{"w":8369,"f":0.05},{"w":8373,"f":-0.10},{"w":8377,"f":0.27},{"w":8381,"f":-0.07},{"w":8385,"f":0.18},{"w":8389,"f":0.29},{"w":8393,"f":0.58},{"w":8397,"f":-0.12},{"w":8401,"f":0.27},{"w":8405,"f":0.35},{"w":8409,"f":-0.25},{"w":8412,"f":0.24},{"w":8416,"f":-0.03},{"w":8420,"f":0.31},{"w":8424,"f":-0.07},{"w":8428,"f":0.19},{"w":8432,"f":-0.06},{"w":8436,"f":0.00},{"w":8440,"f":-0.19},{"w":8444,"f":0.16},{"w":8448,"f":0.08},{"w":8452,"f":-0.10},{"w":8455,"f":0.08},{"w":8459,"f":0.18},{"w":8463,"f":-0.14},{"w":8467,"f":0.17},{"w":8471,"f":0.13},{"w":8475,"f":0.21},{"w":8479,"f":-0.15},{"w":8483,"f":-0.02},{"w":8487,"f":-0.14},{"w":8491,"f":-0.23},{"w":8495,"f":0.06},{"w":8498,"f":0.57},{"w":8502,"f":-0.16},{"w":8506,"f":0.23},{"w":8512,"f":-0.06},{"w":8515,"f":-0.04},{"w":8519,"f":-0.10},{"w":8523,"f":-0.14},{"w":8527,"f":-0.44},{"w":8531,"f":-0.10},{"w":8535,"f":0.25},{"w":8539,"f":0.11},{"w":8543,"f":-0.12},{"w":8547,"f":0.25},{"w":8551,"f":0.11},{"w":8555,"f":-0.03},{"w":8558,"f":-0.11},{"w":8562,"f":-0.28},{"w":8566,"f":0.06},{"w":8571,"f":0.04},{"w":8575,"f":0.06},{"w":8579,"f":-0.14},{"w":8583,"f":0.25},{"w":8587,"f":0.05},{"w":8591,"f":0.02},{"w":8595,"f":-0.18},{"w":8599,"f":0.25},{"w":8603,"f":0.31},{"w":8607,"f":0.11},{"w":8611,"f":-0.52},{"w":8615,"f":-0.36},{"w":8618,"f":-0.25},{"w":8622,"f":-0.56},{"w":8628,"f":-0.18},{"w":8633,"f":0.24},{"w":8638,"f":-0.25},{"w":8643,"f":-0.42},{"w":8648,"f":0.54},
      {"w":8660,"f":-0.36},{"w":8664,"f":0.06},{"w":8668,"f":-0.29},{"w":8672,"f":-0.29},{"w":8675,"f":0.25},{"w":8679,"f":-0.03},{"w":8683,"f":-0.68},{"w":8688,"f":0.18},{"w":8692,"f":-0.19},{"w":8696,"f":0.08},{"w":8700,"f":-0.17},{"w":8704,"f":0.13},{"w":8708,"f":-0.04},{"w":8712,"f":0.13},{"w":8716,"f":-0.12},{"w":8720,"f":-0.04},{"w":8724,"f":-0.16},{"w":8728,"f":0.31},{"w":8732,"f":-0.17},{"w":8735,"f":0.11},{"w":8739,"f":0.05},{"w":8747,"f":0.02},{"w":8750,"f":-0.03},{"w":8754,"f":-0.17},{"w":8758,"f":-0.10},{"w":8762,"f":-0.39},{"w":8766,"f":-0.25},{"w":8769,"f":-0.77},{"w":8773,"f":0.24},{"w":8777,"f":0.08},{"w":8781,"f":0.16},{"w":8785,"f":0.00},{"w":8789,"f":0.16},{"w":8793,"f":-0.12},{"w":8797,"f":-0.25},{"w":8801,"f":-0.27},{"w":8805,"f":0.06},{"w":8808,"f":0.24},{"w":8812,"f":0.08},{"w":8816,"f":0.09},{"w":8820,"f":-0.44},{"w":8824,"f":-0.21},{"w":8828,"f":-0.83},{"w":8832,"f":-0.12},{"w":8836,"f":0.24},{"w":8840,"f":-0.25},{"w":8844,"f":0.00},{"w":8848,"f":0.16},{"w":8852,"f":-0.12},{"w":8855,"f":0.10},{"w":8859,"f":-0.33},{"w":8863,"f":0.05},{"w":8867,"f":0.11},{"w":8871,"f":0.47},{"w":8875,"f":0.05},{"w":8879,"f":-0.39},{"w":8883,"f":0.13},{"w":8887,"f":0.02},{"w":8891,"f":-0.27},{"w":8895,"f":-0.67},{"w":8898,"f":-0.11},{"w":8902,"f":-0.15},{"w":8906,"f":0.06},{"w":8910,"f":-0.03},{"w":8914,"f":0.48},{"w":8918,"f":-0.04},{"w":8922,"f":0.34},{"w":8926,"f":-0.02},{"w":8930,"f":-0.03},{"w":8934,"f":-0.19},{"w":8939,"f":0.29},{"w":8943,"f":0.12},{"w":8947,"f":-0.06},{"w":8951,"f":-0.67},{"w":8955,"f":-0.12},{"w":8958,"f":-0.11},{"w":8962,"f":-0.03},{"w":8966,"f":0.12},{"w":8970,"f":0.32},{"w":8974,"f":-0.31},{"w":8978,"f":-0.16},{"w":8982,"f":-0.79},{"w":8986,"f":-0.16},{"w":8990,"f":0.27},{"w":8994,"f":-0.57},{"w":8998,"f":0.23},{"w":9001,"f":0.02},{"w":9005,"f":-0.10},{"w":9009,"f":0.21},{"w":9013,"f":0.08},{"w":9017,"f":-0.06},{"w":9021,"f":-0.07},{"w":9025,"f":-0.31},{"w":9029,"f":0.13},{"w":9033,"f":0.07},{"w":9037,"f":0.19},{"w":9041,"f":0.12},{"w":9043,"f":0.21},{"w":9047,"f":-0.15},{"w":9051,"f":0.01},{"w":9055,"f":-0.04},{"w":9059,"f":0.10},{"w":9063,"f":0.10},{"w":9068,"f":-0.08},{"w":9072,"f":-0.45},{"w":9076,"f":0.29},{"w":9080,"f":0.29},{"w":9084,"f":0.00},{"w":9088,"f":0.12},{"w":9093,"f":0.09},{"w":9097,"f":-0.02},{"w":9101,"f":-0.22},{"w":9105,"f":0.16},{"w":9108,"f":0.05},{"w":9112,"f":0.08},{"w":9116,"f":0.12},{"w":9120,"f":0.13},{"w":9124,"f":0.02},{"w":9128,"f":0.13},{"w":9132,"f":0.06},{"w":9136,"f":0.32},{"w":9140,"f":0.13},{"w":9144,"f":0.54},{"w":9148,"f":0.52},{"w":9151,"f":0.29},{"w":9155,"f":0.23},{"w":9159,"f":0.15},{"w":9163,"f":0.19},{"w":9167,"f":0.09},{"w":9171,"f":0.04},{"w":9175,"f":0.50},{"w":9179,"f":0.11},{"w":9183,"f":0.08},{"w":9187,"f":0.13},{"w":9191,"f":0.08},{"w":9194,"f":0.05},{"w":9198,"f":0.11},{"w":9202,"f":-0.02},{"w":9206,"f":-0.07},{"w":9210,"f":-0.03},{"w":9214,"f":0.11},{"w":9218,"f":0.36},{"w":9222,"f":0.16},{"w":9230,"f":0.16},{"w":9234,"f":0.40},{"w":9237,"f":0.13},{"w":9241,"f":-0.07},{"w":9245,"f":0.16},{"w":9249,"f":-0.14},{"w":9252,"f":-0.27},{"w":9256,"f":-0.06},{"w":9260,"f":-0.18},{"w":9264,"f":0.34},{"w":9267,"f":0.29},{"w":9271,"f":0.04},{"w":9275,"f":0.35},{"w":9279,"f":0.05},{"w":9283,"f":-0.07},{"w":9287,"f":-0.16},{"w":9291,"f":-0.31},{"w":9296,"f":-0.19}
    ]
  },
  "encoding": {
    "x": {
      "field": "w",
      "type": "quantitative",
      "scale": {"domain": [4748, 9299], "nice": false, "zero": false},
      "axis": {
        "values": [5000, 6000, 7000, 8000, 9000],
        "format": "d",
        "title": "Wavelength",
        "titleFontSize": 32,
        "labelFontSize": 27.5,
        "labelPadding": 14,
        "titlePadding": 10,
        "labelFlush": false
      }
    },
    "y": {
      "field": "f",
      "type": "quantitative",
      "scale": {"domain": [-1.038, 1.037], "nice": false, "zero": false},
      "axis": {
        "values": [-1, -0.75, -0.5, -0.25, 0, 0.25, 0.5, 0.75, 1],
        "format": ".2f",
        "title": "10⁻¹⁸ erg s⁻¹ cm⁻² Å⁻¹",
        "titleFontSize": 43,
        "labelFontSize": 34.5,
        "labelPadding": 18,
        "titlePadding": 20
      }
    }
  },
  "layer": [
    {
      "data": {"name": "noise"},
      "mark": {"type": "line", "color": "green", "strokeWidth": 1.4, "clip": true}
    },
    {
      "data": {"name": "spec"},
      "mark": {"type": "line", "color": "black", "strokeWidth": 4, "clip": true}
    },
    {
      "data": {"name": "model"},
      "mark": {"type": "line", "color": "#0000ff", "strokeWidth": 5, "clip": true}
    }
  ]
}
